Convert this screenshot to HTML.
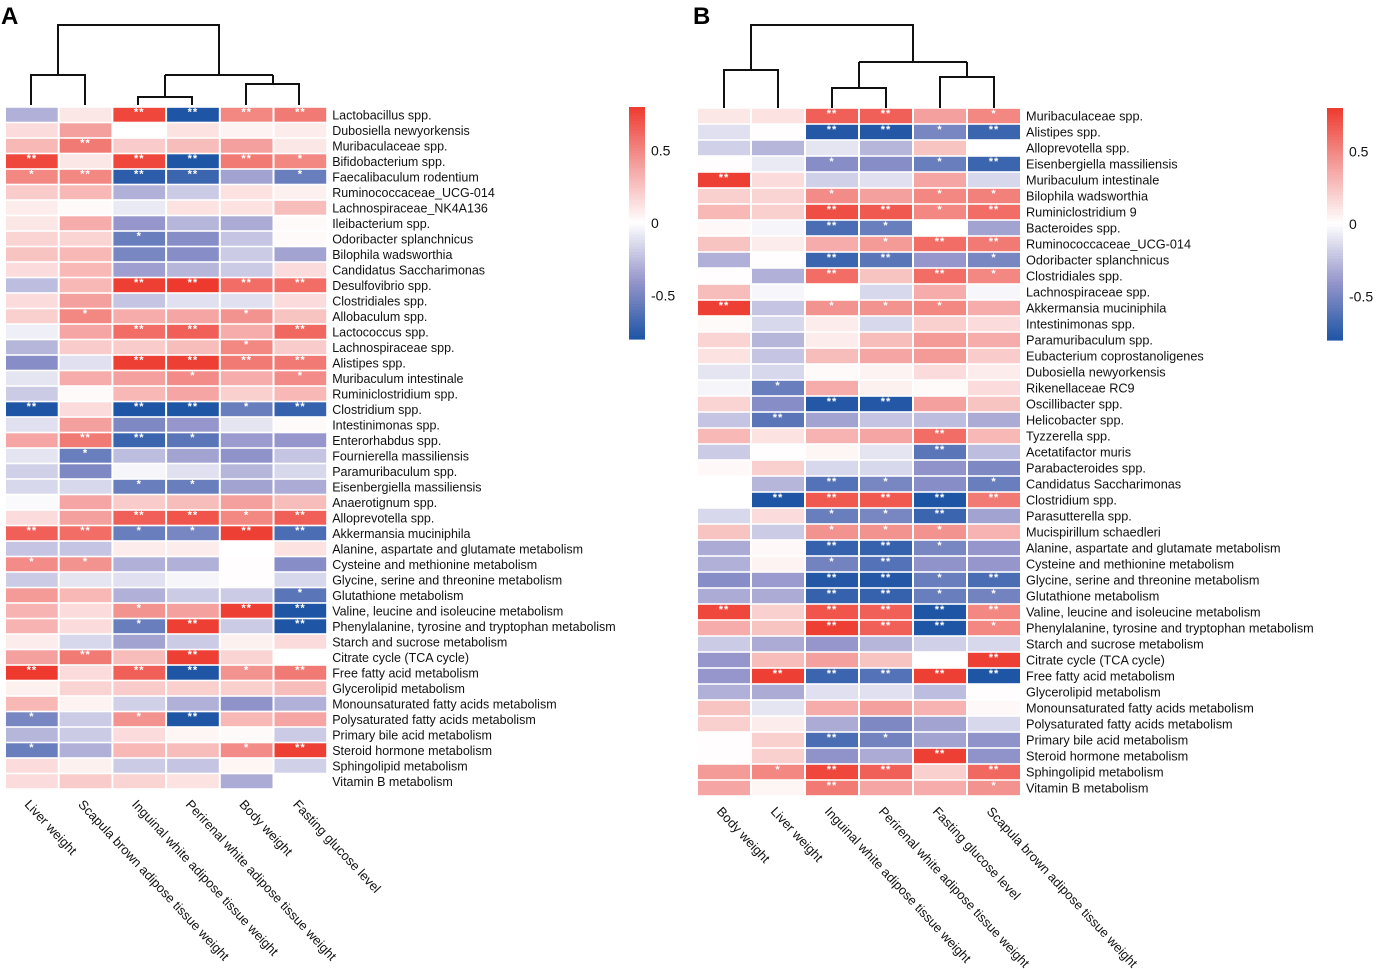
<!DOCTYPE html>
<html><head><meta charset="utf-8"><style>
body{margin:0;background:#fff;}
svg{display:block;font-family:"Liberation Sans",Arial,sans-serif;}
</style></head><body>
<svg id="fig" width="1382" height="969" viewBox="0 0 1382 969"></svg>
<script>
const rowsA=["Lactobacillus spp.","Dubosiella newyorkensis","Muribaculaceae spp.","Bifidobacterium spp.","Faecalibaculum rodentium","Ruminococcaceae_UCG-014","Lachnospiraceae_NK4A136","Ileibacterium spp.","Odoribacter splanchnicus","Bilophila wadsworthia","Candidatus Saccharimonas","Desulfovibrio spp.","Clostridiales spp.","Allobaculum spp.","Lactococcus spp.","Lachnospiraceae spp.","Alistipes spp.","Muribaculum intestinale","Ruminiclostridium spp.","Clostridium spp.","Intestinimonas spp.","Enterorhabdus spp.","Fournierella massiliensis","Paramuribaculum spp.","Eisenbergiella massiliensis","Anaerotignum spp.","Alloprevotella spp.","Akkermansia muciniphila","Alanine, aspartate and glutamate metabolism","Cysteine and methionine metabolism","Glycine, serine and threonine metabolism","Glutathione metabolism","Valine, leucine and isoleucine metabolism","Phenylalanine, tyrosine and tryptophan metabolism","Starch and sucrose metabolism","Citrate cycle (TCA cycle)","Free fatty acid metabolism","Glycerolipid metabolism","Monounsaturated fatty acids metabolism","Polysaturated fatty acids metabolism","Primary bile acid metabolism","Steroid hormone metabolism","Sphingolipid metabolism","Vitamin B metabolism"];
const colsA=["Liver weight","Scapula brown adipose tissue weight","Inguinal white adipose tissue weight","Perirenal white adipose tissue weight","Body weight","Fasting glucose level"];
const valsA=[
[-0.3,0.1,0.75,-0.8,0.5,0.55],[0.15,0.4,0.0,0.12,0.05,0.08],[0.3,0.55,0.22,0.28,0.4,0.1],[0.75,0.1,0.75,-0.8,0.55,0.5],
[0.5,0.5,-0.75,-0.7,-0.35,-0.55],[0.22,0.3,-0.3,-0.2,0.12,0.06],[0.08,0.02,-0.08,0.12,0.12,0.28],[0.1,0.35,-0.4,-0.28,-0.32,0.02],
[0.18,0.18,-0.55,-0.45,-0.22,0.02],[0.25,0.3,-0.5,-0.45,-0.2,-0.35],[0.15,0.3,-0.37,-0.28,-0.2,0.15],[-0.25,0.3,0.78,0.8,0.6,0.6],
[0.15,0.4,-0.22,-0.12,-0.12,0.15],[0.2,0.5,0.35,0.38,0.45,0.25],[-0.06,0.38,0.6,0.65,0.35,0.62],[-0.28,0.22,0.22,0.28,0.5,0.22],
[-0.45,-0.12,0.78,0.78,0.55,0.55],[-0.1,0.35,0.4,0.48,0.35,0.48],[-0.2,0.02,0.3,0.38,0.2,0.3],[-0.8,0.15,-0.8,-0.8,-0.55,-0.72],
[-0.12,0.4,-0.48,-0.4,-0.1,0.02],[0.38,0.55,-0.7,-0.6,-0.38,-0.4],[-0.1,-0.55,-0.25,-0.35,-0.42,-0.22],[-0.18,-0.48,-0.04,-0.12,-0.28,-0.15],
[-0.15,-0.15,-0.55,-0.55,-0.35,-0.32],[-0.02,0.38,0.22,0.28,0.4,0.28],[0.15,0.4,0.65,0.7,0.5,0.65],[0.65,0.6,-0.55,-0.5,0.78,-0.65],
[-0.22,-0.22,0.08,0.08,0.0,0.12],[0.48,0.45,-0.3,-0.3,0.01,-0.45],[-0.2,-0.1,-0.12,-0.04,0.01,-0.15],[0.42,0.3,-0.3,-0.2,-0.2,-0.6],
[0.32,0.15,0.45,0.4,0.78,-0.8],[0.32,0.15,-0.55,0.78,-0.2,-0.8],[0.08,-0.15,-0.35,-0.2,0.06,0.15],[0.4,0.55,0.28,0.78,0.18,0.0],
[0.8,0.15,0.65,-0.8,0.45,0.55],[0.06,0.18,0.22,0.2,0.2,0.28],[0.3,0.05,-0.18,-0.3,-0.42,-0.3],[-0.5,-0.2,0.45,-0.8,0.3,0.38],
[-0.28,-0.2,0.15,0.04,0.02,-0.2],[-0.55,-0.3,0.3,0.28,0.48,0.78],[0.15,0.06,-0.2,-0.22,0.04,-0.18],[0.15,0.22,0.18,0.12,-0.32,0.0]];
const starsA=[
[0,0,2,2,2,2],[0,0,0,0,0,0],[0,2,0,0,0,0],[2,0,2,2,2,1],[1,2,2,2,0,1],[0,0,0,0,0,0],[0,0,0,0,0,0],[0,0,0,0,0,0],
[0,0,1,0,0,0],[0,0,0,0,0,0],[0,0,0,0,0,0],[0,0,2,2,2,2],[0,0,0,0,0,0],[0,1,0,0,1,0],[0,0,2,2,0,2],[0,0,0,0,1,0],
[0,0,2,2,2,2],[0,0,0,1,0,1],[0,0,0,0,0,0],[2,0,2,2,1,2],[0,0,0,0,0,0],[0,2,2,1,0,0],[0,1,0,0,0,0],[0,0,0,0,0,0],
[0,0,1,1,0,0],[0,0,0,0,0,0],[0,0,2,2,1,2],[2,2,1,1,2,2],[0,0,0,0,0,0],[1,1,0,0,0,0],[0,0,0,0,0,0],[0,0,0,0,0,1],
[0,0,1,0,2,2],[0,0,1,2,0,2],[0,0,0,0,0,0],[0,2,0,2,0,0],[2,0,2,2,1,2],[0,0,0,0,0,0],[0,0,0,0,0,0],[1,0,1,2,0,0],
[0,0,0,0,0,0],[1,0,0,0,1,2],[0,0,0,0,0,0],[0,0,0,0,0,0]];
const rowsB=["Muribaculaceae spp.","Alistipes spp.","Alloprevotella spp.","Eisenbergiella massiliensis","Muribaculum intestinale","Bilophila wadsworthia","Ruminiclostridium 9","Bacteroides spp.","Ruminococcaceae_UCG-014","Odoribacter splanchnicus","Clostridiales spp.","Lachnospiraceae spp.","Akkermansia muciniphila","Intestinimonas spp.","Paramuribaculum spp.","Eubacterium coprostanoligenes","Dubosiella newyorkensis","Rikenellaceae RC9","Oscillibacter spp.","Helicobacter spp.","Tyzzerella spp.","Acetatifactor muris","Parabacteroides spp.","Candidatus Saccharimonas","Clostridium spp.","Parasutterella spp.","Mucispirillum schaedleri","Alanine, aspartate and glutamate metabolism","Cysteine and methionine metabolism","Glycine, serine and threonine metabolism","Glutathione metabolism","Valine, leucine and isoleucine metabolism","Phenylalanine, tyrosine and tryptophan metabolism","Starch and sucrose metabolism","Citrate cycle (TCA cycle)","Free fatty acid metabolism","Glycerolipid metabolism","Monounsaturated fatty acids metabolism","Polysaturated fatty acids metabolism","Primary bile acid metabolism","Steroid hormone metabolism","Sphingolipid metabolism","Vitamin B metabolism"];
const colsB=["Body weight","Liver weight","Inguinal white adipose tissue weight","Perirenal white adipose tissue weight","Fasting glucose level","Scapula brown adipose tissue weight"];
const valsB=[
[0.1,0.12,0.65,0.65,0.4,0.5],[-0.12,0.01,-0.78,-0.78,-0.5,-0.7],[-0.18,-0.28,-0.1,-0.28,0.25,0.0],[0.01,-0.08,-0.45,-0.45,-0.55,-0.7],
[0.78,0.15,-0.18,-0.12,0.38,-0.15],[0.2,0.18,0.48,0.4,0.5,0.52],[0.3,0.2,0.72,0.68,0.5,0.6],[0.03,-0.04,-0.65,-0.55,0.0,-0.35],
[0.25,0.08,0.35,0.42,0.6,0.55],[-0.3,0.01,-0.7,-0.6,-0.4,-0.5],[0.01,-0.3,0.6,0.25,0.6,0.5],[0.28,-0.03,0.0,-0.15,0.35,-0.03],
[0.78,-0.22,0.45,0.45,0.5,0.35],[0.02,-0.15,0.08,-0.15,0.2,0.15],[0.18,-0.28,0.08,0.28,0.42,0.35],[0.12,-0.22,0.28,0.38,0.42,0.22],
[-0.1,-0.15,0.02,0.05,0.15,0.08],[-0.04,-0.55,0.35,0.06,0.02,0.15],[0.18,-0.45,-0.78,-0.78,0.4,0.25],[-0.22,-0.6,-0.35,-0.22,-0.25,-0.32],
[0.3,0.12,0.32,0.38,0.6,0.3],[-0.2,0.01,0.04,-0.1,-0.6,-0.25],[0.03,0.2,-0.15,-0.15,-0.42,-0.48],[0.0,-0.28,-0.62,-0.5,-0.45,-0.55],
[0.0,-0.8,0.68,0.68,-0.8,0.55],[-0.15,0.15,-0.55,-0.5,-0.7,-0.35],[0.25,-0.2,0.45,0.45,0.45,0.32],[-0.32,0.03,-0.72,-0.72,-0.5,-0.4],
[-0.3,0.05,-0.52,-0.62,-0.42,-0.4],[-0.45,-0.38,-0.78,-0.78,-0.55,-0.65],[-0.32,-0.32,-0.72,-0.72,-0.55,-0.52],[0.75,0.2,0.7,0.65,-0.8,0.5],
[0.35,0.25,0.78,0.65,-0.8,0.5],[-0.2,-0.32,-0.4,-0.28,-0.18,-0.15],[-0.4,0.28,0.4,0.25,0.0,0.78],[-0.4,0.78,-0.7,-0.62,0.78,-0.8],
[-0.3,-0.32,-0.12,-0.12,-0.25,0.01],[0.25,-0.1,0.35,0.4,0.32,0.03],[0.2,0.08,-0.32,-0.48,-0.35,-0.15],[0.01,0.2,-0.65,-0.52,-0.35,-0.42],
[0.01,0.2,-0.42,-0.32,0.78,-0.42],[0.42,0.5,0.75,0.65,0.2,0.62],[0.38,0.04,0.55,0.38,0.35,0.45]];
const starsB=[
[0,0,2,2,0,1],[0,0,2,2,1,2],[0,0,0,0,0,0],[0,0,1,0,1,2],[2,0,0,0,0,0],[0,0,1,0,1,1],[0,0,2,2,1,2],[0,0,2,1,0,0],
[0,0,0,1,2,2],[0,0,2,2,0,1],[0,0,2,0,2,1],[0,0,0,0,0,0],[2,0,1,1,1,0],[0,0,0,0,0,0],[0,0,0,0,0,0],[0,0,0,0,0,0],
[0,0,0,0,0,0],[0,1,0,0,0,0],[0,0,2,2,0,0],[0,2,0,0,0,0],[0,0,0,0,2,0],[0,0,0,0,2,0],[0,0,0,0,0,0],[0,0,2,1,0,1],
[0,2,2,2,2,2],[0,0,1,1,2,0],[0,0,1,1,1,0],[0,0,2,2,1,0],[0,0,1,2,0,0],[0,0,2,2,1,2],[0,0,2,2,1,1],[2,0,2,2,2,2],
[0,0,2,2,2,1],[0,0,0,0,0,0],[0,0,0,0,0,2],[0,2,2,2,2,2],[0,0,0,0,0,0],[0,0,0,0,0,0],[0,0,0,0,0,0],[0,0,2,1,0,0],
[0,0,0,0,2,0],[0,1,2,2,0,2],[0,0,2,0,0,1]];
const cbTicks=[0.5,0,-0.5];
const cbTickLabels=["0.5","0","-0.5"];

const NS="http://www.w3.org/2000/svg";
const svg=document.getElementById('fig');
function mk(tag,attrs,parent){const e=document.createElementNS(NS,tag);for(const k in attrs)e.setAttribute(k,attrs[k]);(parent||svg).appendChild(e);return e;}
function lerp(a,b,t){return Math.round(a+(b-a)*t);}
function color(v){
  let t=Math.max(-1,Math.min(1,v/0.8));
  let w=[255,255,255],m,e;
  if(t>=0){m=[244,160,158];e=[238,58,46];}else{m=[150,150,204];e=[30,85,165];t=-t;}
  let c;
  if(t<0.5){const u=t/0.5;c=[0,1,2].map(i=>lerp(w[i],m[i],u));}
  else{const u=(t-0.5)/0.5;c=[0,1,2].map(i=>lerp(m[i],e[i],u));}
  return `rgb(${c[0]},${c[1]},${c[2]})`;
}
function panel(cfg){
  const g=mk('g',{});
  
  
  const cw=cfg.cw,rh=cfg.rh;
  const xs=i=>cfg.x0+i*cw, ys=j=>cfg.y0+j*rh;
  cfg.vals.forEach((row,j)=>{
    row.forEach((v,i)=>{
      const r=mk('rect',{x:xs(i)+1,y:ys(j)+0.8,width:cw-2,height:rh-1.6,fill:color(v)},g);
      
      
      const s=cfg.stars[j][i];
      if(s){const t=mk('text',{x:xs(i)+cw/2,y:ys(j)+rh*0.55,'font-size':11,'font-weight':'bold',fill:'#fff','text-anchor':'middle','letter-spacing':1},g);t.textContent=s===2?'**':'*';
        
        }
    });
    const l=mk('text',{x:xs(6)+5,y:ys(j)+rh/2+4.5,'font-size':cfg.rf,fill:'#111'},g);
    l.textContent=cfg.rows[j];
    
    
  });
  cfg.cols.forEach((c,i)=>{
    const x=xs(i)+cw/2-8,y=cfg.y0+cfg.vals.length*rh+16;
    const t=mk('text',{x:x,y:y,'font-size':13,fill:'#111',transform:`rotate(47 ${x} ${y})`},g);
    t.textContent=c;
    
    
  });
  const d=mk('path',{d:cfg.dendro,fill:'none',stroke:'#111','stroke-width':2},g);
  
  
  const L=mk('text',{x:cfg.x0-4,y:24,'font-size':24,'font-weight':'bold',fill:'#000'},g);
  L.textContent=cfg.letter;
  
  
  const cb=mk('g',{},g);
  
  
  const cbx=cfg.cbx,cby=cfg.cby,cbh=232,n=80;
  const yv=v=>cby+(0.8-v)/1.6*cbh;
  for(let k=0;k<n;k++){const v=0.8-1.6*k/n;mk('rect',{x:cbx,y:cby+k*cbh/n,width:16,height:cbh/n+0.6,fill:color(v-0.01)},cb);}
  cbTicks.forEach((v,k)=>{const t=mk('text',{x:cbx+22,y:yv(v)+5,'font-size':14,fill:'#111'},cb);t.textContent=cbTickLabels[k];
    
    });
}
panel({name:'heatmap-panel-a',letter:'A',x0:5,y0:107,cw:53.7,rh:15.5,rf:12.5,vals:valsA,stars:starsA,rows:rowsA,cols:colsA,cbx:629,cby:107,
  dendro:'M31 105V75H85V105 M58 75V25H219V75 M165 75H273 M165 75V97 M138 105V97H192V105 M273 75V84 M246 105V84H299V105'});
panel({name:'heatmap-panel-b',letter:'B',x0:697,y0:108,cw:54,rh:16,rf:12.7,vals:valsB,stars:starsB,rows:rowsB,cols:colsB,cbx:1327,cby:108,
  dendro:'M724 108V70H778V108 M751 70V25H913V62 M859 62H967 M859 62V88 M832 108V88H886V108 M967 62V77 M940 108V77H994V108'});
</script>
</body></html>
